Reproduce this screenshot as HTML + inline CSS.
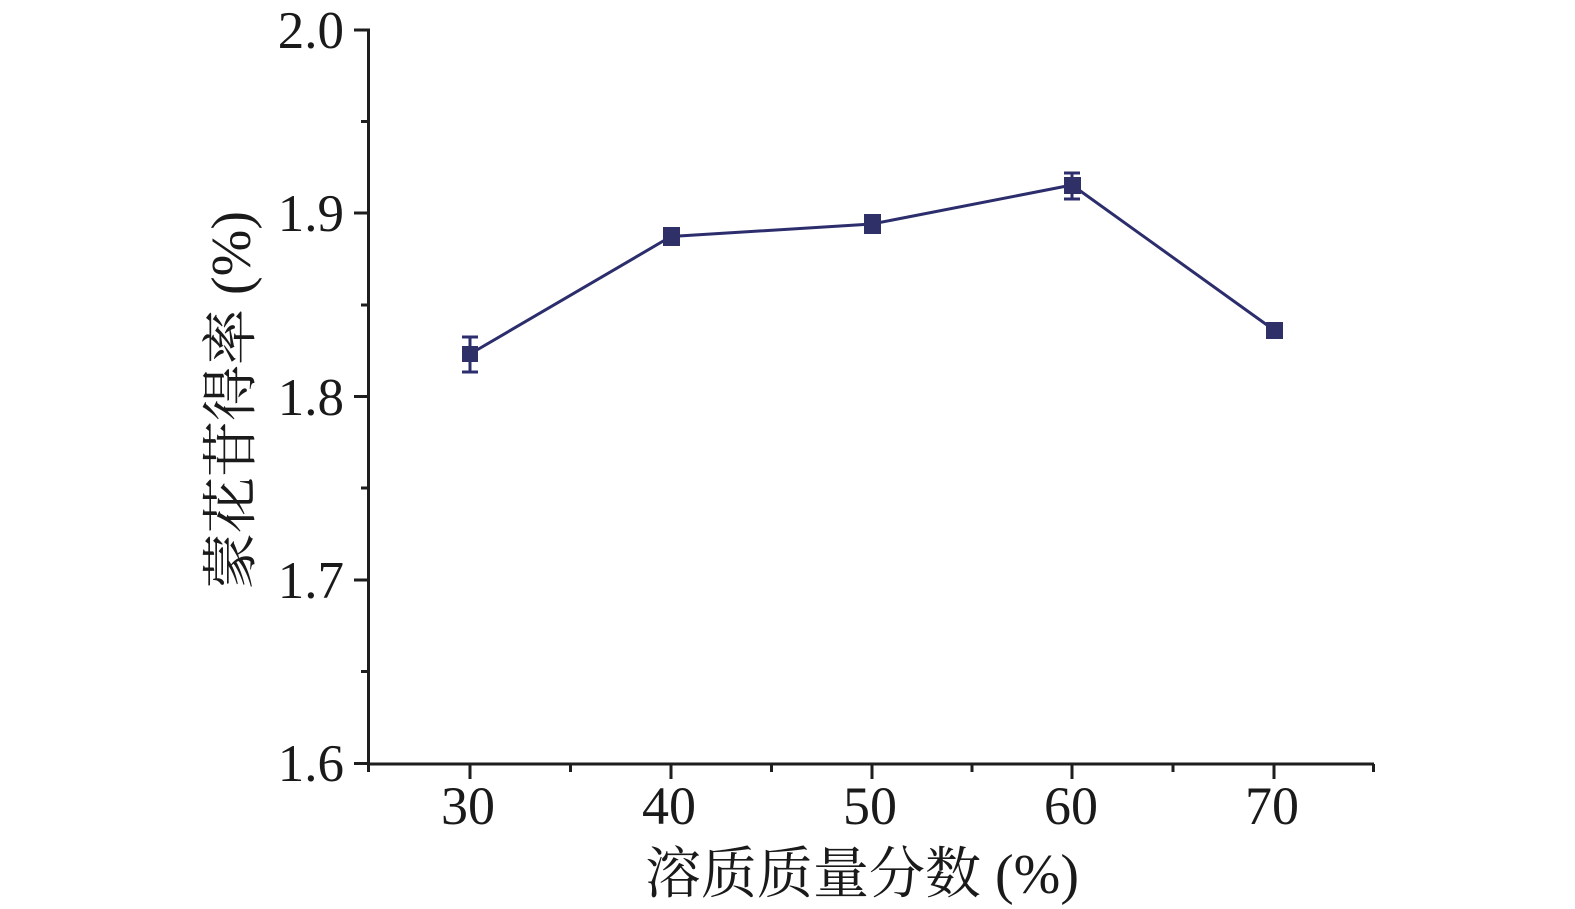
<!DOCTYPE html>
<html>
<head>
<meta charset="utf-8">
<style>
html,body{margin:0;padding:0;background:#fff;}
svg{display:block;}
</style>
</head>
<body>
<svg width="1575" height="909" viewBox="0 0 1575 909" xmlns="http://www.w3.org/2000/svg">
<rect width="1575" height="909" fill="#fff"/>
<!-- axes -->
<g stroke="#1e1e1e" stroke-width="3" fill="none">
  <line x1="368.5" y1="28.5" x2="368.5" y2="772"/>
  <line x1="367" y1="764" x2="1374" y2="764"/>
  <line x1="1373.5" y1="764" x2="1373.5" y2="772"/>
  <!-- y major ticks -->
  <line x1="354" y1="30" x2="369" y2="30"/>
  <line x1="354" y1="213" x2="369" y2="213"/>
  <line x1="354" y1="396.5" x2="369" y2="396.5"/>
  <line x1="354" y1="580" x2="369" y2="580"/>
  <line x1="354" y1="763.5" x2="369" y2="763.5"/>
  <!-- y minor -->
  <line x1="361" y1="121.5" x2="369" y2="121.5"/>
  <line x1="361" y1="305" x2="369" y2="305"/>
  <line x1="361" y1="488" x2="369" y2="488"/>
  <line x1="361" y1="671.5" x2="369" y2="671.5"/>
  <!-- x major ticks -->
  <line x1="470" y1="764" x2="470" y2="779"/>
  <line x1="671" y1="764" x2="671" y2="779"/>
  <line x1="872" y1="764" x2="872" y2="779"/>
  <line x1="1072" y1="764" x2="1072" y2="779"/>
  <line x1="1274" y1="764" x2="1274" y2="779"/>
  <!-- x minor -->
  <line x1="570.5" y1="764" x2="570.5" y2="772"/>
  <line x1="771.5" y1="764" x2="771.5" y2="772"/>
  <line x1="972" y1="764" x2="972" y2="772"/>
  <line x1="1173" y1="764" x2="1173" y2="772"/>
</g>
<!-- y tick labels -->
<g font-family="'Liberation Serif', serif" font-size="53" fill="#1a1a1a" text-anchor="end">
  <text x="344" y="48">2.0</text>
  <text x="344" y="231">1.9</text>
  <text x="344" y="415">1.8</text>
  <text x="344" y="598">1.7</text>
  <text x="344" y="781">1.6</text>
</g>
<!-- x tick labels -->
<g font-family="'Liberation Serif', serif" font-size="54" fill="#1a1a1a" text-anchor="middle">
  <text x="468" y="824">30</text>
  <text x="669" y="824">40</text>
  <text x="870" y="824">50</text>
  <text x="1071" y="824">60</text>
  <text x="1272" y="824">70</text>
</g>
<!-- axis titles -->
<text x="862" y="893" font-family="'Liberation Serif', 'Noto Serif CJK SC', serif" font-size="56" fill="#1a1a1a" text-anchor="middle">溶质质量分数 (%)</text>
<text transform="translate(250,400) rotate(-90)" x="0" y="0" font-family="'Liberation Serif', 'Noto Serif CJK SC', serif" font-size="56" fill="#1a1a1a" text-anchor="middle">蒙花苷得率 (%)</text>
<!-- series -->
<polyline points="470,354 671,236.5 872,224 1072,185 1274,330" fill="none" stroke="#2c2d6c" stroke-width="3"/>
<g stroke="#2c2d6c" stroke-width="3">
  <line x1="470" y1="337" x2="470" y2="372"/>
  <line x1="462" y1="337" x2="478" y2="337"/>
  <line x1="462" y1="372" x2="478" y2="372"/>
  <line x1="671" y1="227" x2="671" y2="246"/>
  <line x1="872" y1="214" x2="872" y2="234"/>
  <line x1="1072" y1="173" x2="1072" y2="199"/>
  <line x1="1064" y1="173" x2="1080" y2="173"/>
  <line x1="1064" y1="199" x2="1080" y2="199"/>
</g>
<g fill="#2f3068">
  <rect x="462" y="346" width="16" height="16"/>
  <rect x="663" y="227" width="17" height="19"/>
  <rect x="864" y="214" width="17" height="20"/>
  <rect x="1064" y="177" width="17" height="17"/>
  <rect x="1266" y="322" width="17" height="17"/>
</g>
</svg>
</body>
</html>
